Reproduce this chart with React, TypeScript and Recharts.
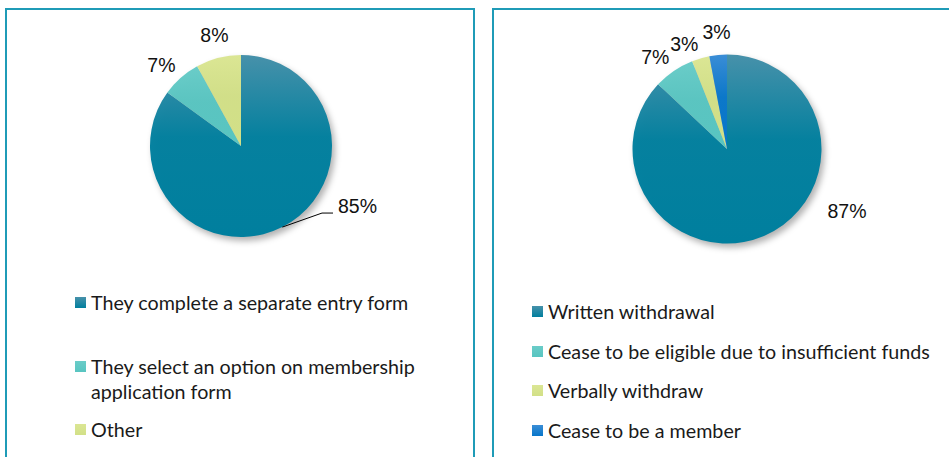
import { Cell, Legend, Pie, PieChart } from "recharts";

const leftNames = [
  "They complete a separate entry form",
  "They select an option on membership application form",
  "Other",
];
const leftValues = [85, 7, 8];

const rightNames = [
  "Written withdrawal",
  "Cease to be eligible due to insufficient funds",
  "Verbally withdraw",
  "Cease to be a member",
];
const rightValues = [87, 7, 3, 3];

// [top, bottom] gradient stops per category colour
const leftColors = [
  ["#4791aa", "#007f9e"],
  ["#6accc8", "#58c5c1"],
  ["#dbe694", "#d2e087"],
];
const rightColors = [
  ["#4791aa", "#007f9e"],
  ["#6accc8", "#58c5c1"],
  ["#dbe694", "#d2e087"],
  ["#3a8dd6", "#0776ca"],
];

const RAD = Math.PI / 180;
const BORDER = "#1f9bb7";

function makeLabel(leader: boolean) {
  return (p: any) => {
    const { cx, cy, midAngle, outerRadius, value, percent } = p;
    const cos = Math.cos(-midAngle * RAD);
    const sin = Math.sin(-midAngle * RAD);
    const style = { fontFamily: "Liberation Sans", fontSize: 19.5, fill: "#111" };
    if (percent > 0.5) {
      // the big slice gets its label beside the pie, like the original
      const x = cx + outerRadius + 6;
      const y = cy + outerRadius * 0.66;
      return (
        <g>
          {leader && (
            <polyline
              points={`${cx + outerRadius * cos},${cy + outerRadius * sin} ${x - 16},${y + 7} ${x - 5},${y + 7}`}
              stroke="#000"
              strokeWidth={1}
              fill="none"
            />
          )}
          <text x={x} y={y} textAnchor="start" dominantBaseline="central" {...style}>
            {value}%
          </text>
        </g>
      );
    }
    const side = cos < -0.26;
    const r = outerRadius + (side ? 8 : 16);
    return (
      <text
        x={cx + r * cos}
        y={cy + r * sin}
        textAnchor={side ? "end" : "middle"}
        {...style}
      >
        {value}%
      </text>
    );
  };
}

function legendContent(names: string[], colors: string[][], gaps: number[], textWidth?: number) {
  return () => (
    <div
      style={{
        fontFamily: "Lato",
        fontSize: 19.7,
        lineHeight: "25px",
        color: "#1a1a1a",
        textAlign: "left",
      }}
    >
      {names.map((n, i) => (
        <div key={n} style={{ display: "flex", alignItems: "flex-start", marginBottom: gaps[i] || 0 }}>
          <span
            style={{
              width: 11,
              height: 11,
              marginTop: 7,
              marginRight: 5,
              flex: "none",
              background: `linear-gradient(${colors[i][0]}, ${colors[i][1]})`,
            }}
          />
          <span style={textWidth ? { maxWidth: textWidth } : { whiteSpace: "nowrap" }}>{n}</span>
        </div>
      ))}
    </div>
  );
}

function PiePanel(props: {
  id: string;
  names: string[];
  values: number[];
  colors: string[][];
  width: number;
  cx: number;
  cy: number;
  r: number;
  leader: boolean;
  legendLeft: number;
  legendTop: number;
  gaps: number[];
  textWidth?: number;
}) {
  const data = props.names.map((name, i) => ({ name, value: props.values[i] }));
  return (
    <PieChart width={props.width} height={457} margin={{ top: 0, right: 0, bottom: 0, left: 0 }}>
      <defs>
        <filter id={`blur-${props.id}`} x="-20%" y="-20%" width="140%" height="140%">
          <feGaussianBlur stdDeviation="3" />
        </filter>
        {props.colors.map((c, i) => (
          <linearGradient key={i} id={`g-${props.id}-${i}`} x1="0" y1="0" x2="0" y2="1">
            <stop offset="0%" stopColor={c[0]} />
            <stop offset="45%" stopColor={c[1]} stopOpacity={0.97} />
            <stop offset="100%" stopColor={c[1]} />
          </linearGradient>
        ))}
      </defs>
      {/* soft drop shadow */}
      <Pie
        data={data}
        dataKey="value"
        nameKey="name"
        cx={props.cx + 3}
        cy={props.cy + 4}
        outerRadius={props.r}
        startAngle={90}
        endAngle={-270}
        stroke="none"
        legendType="none"
        isAnimationActive={false}
        label={false}
        labelLine={false}
      >
        {data.map((d) => (
          <Cell key={d.name} fill="#000" fillOpacity={0.3} filter={`url(#blur-${props.id})`} />
        ))}
      </Pie>
      <Pie
        data={data}
        dataKey="value"
        nameKey="name"
        cx={props.cx}
        cy={props.cy}
        outerRadius={props.r}
        startAngle={90}
        endAngle={-270}
        stroke="none"
        isAnimationActive={false}
        labelLine={false}
        label={makeLabel(props.leader)}
      >
        {data.map((d, i) => (
          <Cell key={d.name} fill={`url(#g-${props.id}-${i})`} />
        ))}
      </Pie>
      <Legend
        layout="vertical"
        align="center"
        verticalAlign="middle"
        content={legendContent(props.names, props.colors, props.gaps, props.textWidth)}
        wrapperStyle={{ left: props.legendLeft, top: props.legendTop, width: "auto" }}
      />
    </PieChart>
  );
}

export default function App() {
  return (
    <div
      style={{
        position: "absolute",
        left: 0,
        top: 0,
        width: 949,
        height: 457,
        overflow: "hidden",
        background: "#fff",
      }}
    >
      <div
        style={{
          position: "absolute",
          left: 5,
          top: 8,
          width: 470,
          height: 470,
          border: `2px solid ${BORDER}`,
          boxSizing: "border-box",
        }}
      />
      <div
        style={{
          position: "absolute",
          left: 492,
          top: 8,
          width: 480,
          height: 470,
          border: `2px solid ${BORDER}`,
          boxSizing: "border-box",
        }}
      />
      <div style={{ position: "absolute", left: 0, top: 0 }}>
        <PiePanel
          id="l"
          names={leftNames}
          values={leftValues}
          colors={leftColors}
          width={480}
          cx={241}
          cy={146}
          r={91}
          leader={true}
          legendLeft={75}
          legendTop={290}
          gaps={[39, 13]}
          textWidth={336}
        />
      </div>
      <div style={{ position: "absolute", left: 480, top: 0 }}>
        <PiePanel
          id="r"
          names={rightNames}
          values={rightValues}
          colors={rightColors}
          width={469}
          cx={247}
          cy={149}
          r={94.5}
          leader={false}
          legendLeft={52}
          legendTop={299}
          gaps={[14.5, 14.5, 14.5]}
        />
      </div>
    </div>
  );
}
